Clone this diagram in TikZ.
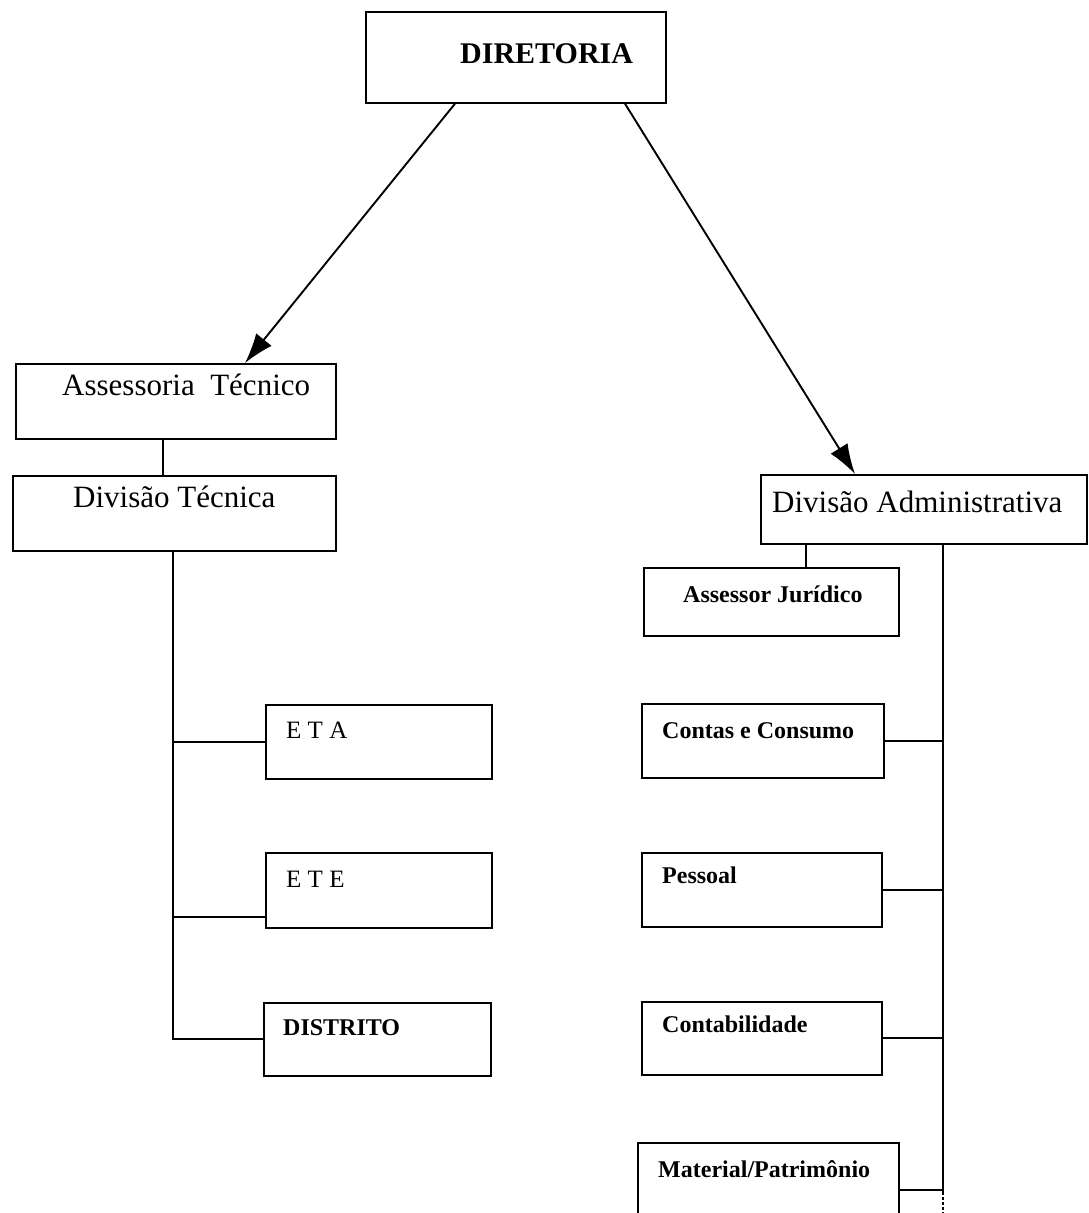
\documentclass[tikz,border=0pt]{standalone}
\usepackage{fontspec}
\setmainfont{Liberation Serif}
\usetikzlibrary{arrows.meta}
\tikzset{
  box/.style={draw, line width=1.7pt, rectangle, inner sep=0pt, anchor=north west},
  lbl/.style={anchor=base west, inner sep=0pt},
  big/.style={font=\fontsize{31}{36}\selectfont},
  bigb/.style={font=\fontsize{30}{36}\selectfont\bfseries},
  smallb/.style={font=\fontsize{24}{28}\selectfont\bfseries},
  smallr/.style={font=\fontsize{25}{30}\selectfont},
  conn/.style={line width=1.8pt},
  arr/.style={line width=1.9pt, -{Latex[length=30pt,width=20pt]}}
}
\newcommand\bx[5]{\node[box, minimum width=#4pt, minimum height=#5pt] (#1) at (#2,#3) {};}
\begin{document}
\begin{tikzpicture}[x=1pt,y=-1pt]
\useasboundingbox (0,0) rectangle (1088,1213);
% boxes
\bx{dir}{365}{11}{300}{91}
\bx{at}{15}{363}{320}{75}
\bx{dt}{12}{475}{323}{75}
\bx{eta}{265}{704}{226}{74}
\bx{ete}{265}{852}{226}{75}
\bx{dis}{263}{1002}{227}{73}
\bx{da}{760}{474}{326}{69}
\bx{aj}{643}{567}{255}{68}
\bx{cc}{641}{703}{242}{74}
\bx{pes}{641}{852}{240}{74}
\bx{cont}{641}{1001}{240}{73}
\bx{mat}{637}{1142}{261}{80}
% labels
\node[lbl,bigb] (tdir) at (460,63) {DIRETORIA};
\node[lbl,big] (tat) at (62,395) {Assessoria\ \ Técnico};
\node[lbl,big] (tdt) at (73,507) {Divisão Técnica};
\node[lbl,big] (tda) at (772,512) {Divisão Administrativa};
\node[lbl,smallb] (taj) at (683,602) {Assessor Jurídico};
\node[lbl,smallr] (teta) at (286,738) {E T A};
\node[lbl,smallr] (tete) at (286,887) {E T E};
\node[lbl,smallb] (tdis) at (283,1035) {DISTRITO};
\node[lbl,smallb] (tcc) at (662,738) {Contas e Consumo};
\node[lbl,smallb] (tpes) at (662,883) {Pessoal};
\node[lbl,smallb] (tcont) at (662,1032) {Contabilidade};
\node[lbl,smallb] (tmat) at (658,1177) {Material/Patrimônio};
% arrows
\draw[arr] ([xshift=90pt]dir.south west) -- ([xshift=230pt]at.north west);
\draw[arr] ([xshift=260pt]dir.south west) -- ([xshift=95pt]da.north west);
% technical branch
\draw[conn] ([xshift=148pt]at.south west) -- ([xshift=148pt]at.south west |- dt.north);
\coordinate (tsTop) at ([xshift=161pt]dt.south west);
\draw[conn] (tsTop) |- (dis.west);
\draw[conn] (eta.west) -- (eta.west -| tsTop);
\draw[conn] ([yshift=12pt]ete.south west) -- ([yshift=12pt]ete.south west -| tsTop);
% administrative branch
\draw[conn] ([xshift=46pt]da.south west) -- ([xshift=46pt]da.south west |- aj.north);
\coordinate (asTop) at ([xshift=183pt]da.south west);
\coordinate (asBot) at (943,1192);
\coordinate (asEnd) at (943,1213);
\draw[conn] (asTop) -- (asBot);
\draw[conn, densely dashed] (asBot) -- (asEnd);
\draw[conn] (cc.east) -- (cc.east -| asTop);
\draw[conn] (pes.east) -- (pes.east -| asTop);
\draw[conn] (cont.east) -- (cont.east -| asTop);
\draw[conn] ([yshift=-48pt]mat.north east) -- ([yshift=-48pt]mat.north east -| asTop);
\end{tikzpicture}
\end{document}
